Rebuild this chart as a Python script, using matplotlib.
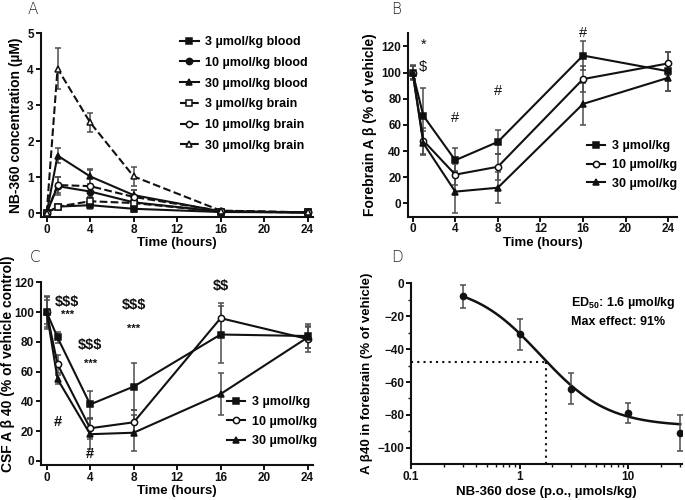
import numpy as np
import matplotlib
matplotlib.use("Agg")
import matplotlib.pyplot as plt
from matplotlib.lines import Line2D
from matplotlib.ticker import FixedLocator, NullFormatter

plt.rcParams["font.family"] = ["Liberation Sans", "DejaVu Sans"]
plt.rcParams["font.weight"] = "bold"
plt.rcParams["mathtext.fontset"] = "custom"
plt.rcParams["mathtext.bf"] = "Liberation Sans:bold"
plt.rcParams["mathtext.rm"] = "Liberation Sans:bold"

INK = "#111111"
ERR = "#4d4d4d"

# ---- panel A: NB-360 exposure ----
time_pts = [0, 1, 4, 8, 16, 24]
a_labels = ["3 µmol/kg blood", "10 µmol/kg blood", "30 µmol/kg blood",
            "3 µmol/kg brain", "10 µmol/kg brain", "30 µmol/kg brain"]
a_blood3 = [0, 0.18, 0.22, 0.12, 0.03, 0.02]
a_blood10 = [0, 0.75, 0.60, 0.30, 0.04, 0.02]
a_blood30 = [0, 1.60, 1.02, 0.50, 0.05, 0.02]
a_brain3 = [0, 0.18, 0.33, 0.28, 0.04, 0.02]
a_brain10 = [0, 0.78, 0.75, 0.45, 0.06, 0.02]
a_brain30 = [0, 4.02, 2.52, 1.02, 0.07, 0.02]
a_err_blood3 = [0, 0.05, 0.10, 0.10, 0.02, 0.01]
a_err_blood10 = [0, 0.25, 0.15, 0.18, 0.03, 0.01]
a_err_blood30 = [0, 0.20, 0.20, 0.15, 0.03, 0.01]
a_err_brain3 = [0, 0.05, 0.12, 0.10, 0.02, 0.01]
a_err_brain10 = [0, 0.22, 0.45, 0.20, 0.03, 0.01]
a_err_brain30 = [0, 0.58, 0.27, 0.27, 0.03, 0.01]

# ---- panel B: forebrain Abeta ----
dose_labels = ["3 µmol/kg", "10 µmol/kg", "30 µmol/kg"]
b_3 = [100, 67, 33, 47, 113, 101]
b_10 = [100, 48, 22, 28, 95, 107]
b_30 = [100, 46, 9, 12, 76, 96]
b_err3 = [6, 21, 9, 9, 11, 15]
b_err10 = [5, 10, 8, 10, 10, 9]
b_err30 = [5, 9, 16, 12, 16, 10]

# ---- panel C: CSF Abeta40 ----
c_3 = [100, 83, 38, 50, 85, 84]
c_10 = [100, 65, 22, 26, 96, 82]
c_30 = [100, 55, 18, 19, 45, 83]
c_err3 = [11, 4, 9, 16, 19, 8]
c_err10 = [8, 6, 7, 8, 10, 9]
c_err30 = [10, 3, 10, 12, 14, 7]

# ---- panel D: dose response ----
d_dose = [0.3, 1, 3, 10, 30]
d_resp = [-8, -31, -64, -79, -91]
d_err = [7, 9.5, 9.5, 6, 11]
fit_top, fit_bottom, fit_ec50, fit_hill = 0.0, -87.0, 1.55, 1.4
ed50_x, ed50_y = 1.76, -48

MS = 4.5


def style(ax):
    for side in ("top", "right"):
        ax.spines[side].set_visible(False)
    for side in ("left", "bottom"):
        ax.spines[side].set_linewidth(1.5)
        ax.spines[side].set_color(INK)
    ax.tick_params(axis="both", which="major", length=3.5, width=1.4,
                   pad=1.5, labelsize=8.5, colors=INK)
    ax.tick_params(axis="both", which="minor", length=2, width=1.0,
                   colors=INK)
    for lab in ax.get_xticklabels() + ax.get_yticklabels():
        lab.set_fontweight("bold")


def series(ax, y, err, marker, filled=True, ls="-"):
    ax.errorbar(time_pts, y, yerr=err, color=INK, ecolor=ERR, elinewidth=1.1,
                capsize=2.5, capthick=1.1, linestyle=ls, linewidth=1.5,
                marker=marker, markersize=MS,
                markerfacecolor=INK if filled else "white",
                markeredgecolor=INK, markeredgewidth=1.1, zorder=3)


def handle(marker, filled=True, ls="-"):
    return Line2D([], [], color=INK, linestyle=ls, linewidth=1.5,
                  marker=marker, markersize=MS,
                  markerfacecolor=INK if filled else "white",
                  markeredgecolor=INK, markeredgewidth=1.1)


def add_legend(ax, handles, labels, x, y, spacing):
    ax.legend(handles, labels, loc="upper left",
              bbox_to_anchor=(x / W, 1 - y / H),
              bbox_transform=fig.transFigure, frameon=False,
              handlelength=1.5, handletextpad=0.5, labelspacing=spacing,
              borderpad=0, borderaxespad=0,
              prop={"weight": "bold", "size": 9})


W, H = 685, 500
fig = plt.figure(figsize=(W / 100, H / 100), dpi=100)


def box(l, r, t, b):
    return [l / W, 1 - b / H, (r - l) / W, (b - t) / H]


axA = fig.add_axes(box(40.7, 313, 33.3, 216.7))
axB = fig.add_axes(box(408.3, 676.7, 33.3, 216.5))
axC = fig.add_axes(box(40.7, 313, 281.7, 465))
axD = fig.add_axes(box(411, 681.7, 283.3, 464.3))

# A
series(axA, a_blood3, a_err_blood3, "s")
series(axA, a_blood10, a_err_blood10, "o")
series(axA, a_blood30, a_err_blood30, "^")
series(axA, a_brain3, a_err_brain3, "s", False, "--")
series(axA, a_brain10, a_err_brain10, "o", False, "--")
series(axA, a_brain30, a_err_brain30, "^", False, "--")
axA.set_xlim(-0.55, 24.5)
axA.set_ylim(-0.1, 5)
axA.set_xticks([0, 4, 8, 12, 16, 20, 24])
axA.set_yticks([0, 1, 2, 3, 4, 5])
axA.set_xlabel("Time (hours)", fontsize=9.5, fontweight="bold", labelpad=1)
axA.set_ylabel("NB-360 concentration (µM)", fontsize=10, fontweight="bold",
               labelpad=3)
style(axA)
add_legend(axA, [handle("s"), handle("o"), handle("^"),
                 handle("s", False, "--"), handle("o", False, "--"),
                 handle("^", False, "--")], a_labels, 180, 36, 0.7)

# B
series(axB, b_3, b_err3, "s")
series(axB, b_10, b_err10, "o", False)
series(axB, b_30, b_err30, "^")
axB.set_xlim(-0.41, 24.8)
axB.set_ylim(-10, 130)
axB.set_xticks([0, 4, 8, 12, 16, 20, 24])
axB.set_yticks([0, 20, 40, 60, 80, 100, 120])
axB.set_xlabel("Time (hours)", fontsize=9.5, fontweight="bold", labelpad=1)
axB.set_ylabel("Forebrain A β (% of vehicle)", fontsize=10, fontweight="bold",
               labelpad=3)
style(axB)
add_legend(axB, [handle("s"), handle("o", False), handle("^")], dose_labels,
           586.7, 140, 0.55)
for x, y, s in [(1, 121, "*"), (1, 104, r"\$"), (4, 65, "#"), (8, 86, "#"),
                (16, 130, "#")]:
    axB.text(x, y, s, ha="center", va="center", fontsize=10.5,
             fontweight="normal", color=INK, clip_on=False)

# C
series(axC, c_3, c_err3, "s")
series(axC, c_10, c_err10, "o", False)
series(axC, c_30, c_err30, "^")
axC.set_xlim(-0.55, 24.5)
axC.set_ylim(-2.7, 120.5)
axC.set_xticks([0, 4, 8, 12, 16, 20, 24])
axC.set_yticks([0, 20, 40, 60, 80, 100, 120])
axC.set_xlabel("Time (hours)", fontsize=9.5, fontweight="bold", labelpad=1)
axC.set_ylabel("CSF A β 40 (% of vehicle control)", fontsize=10,
               fontweight="bold", labelpad=3)
axC.yaxis.set_label_coords(-0.095, 0.55)
style(axC)
add_legend(axC, [handle("s"), handle("o", False), handle("^")], dose_labels,
           226.7, 396, 0.6)
for x, y, s, fs in [(1.9, 107, r"\$\$\$", 10.5), (1.9, 98, "***", 8),
                    (4, 78, r"\$\$\$", 10.5), (4, 65.5, "***", 8),
                    (8, 104.7, r"\$\$\$", 10.5), (8, 88.6, "***", 8),
                    (16, 117.7, r"\$\$", 10.5),
                    (1, 26, "#", 10.5), (4, 4.7, "#", 10.5)]:
    axC.text(x, y, s, ha="center", va="center", fontsize=fs,
             fontweight="bold", color=INK, clip_on=False)

# D
xs = np.logspace(np.log10(d_dose[0]), np.log10(d_dose[-1]), 200)
fit = fit_top + (fit_bottom - fit_top) * (xs / fit_ec50) ** fit_hill / (
    1 + (xs / fit_ec50) ** fit_hill)
axD.plot(xs, fit, color=INK, linewidth=1.8, zorder=2)
axD.errorbar(d_dose, d_resp, yerr=d_err, fmt="o", color=INK, ecolor=ERR,
             elinewidth=1.1, capsize=2.5, capthick=1.1, markersize=MS, zorder=3)
axD.plot([0.1, ed50_x], [ed50_y, ed50_y], color=INK, linestyle=(0, (1, 2)),
         linewidth=1.5)
axD.plot([ed50_x, ed50_x], [-110, ed50_y], color=INK, linestyle=(0, (1, 2)),
         linewidth=1.5)
axD.set_xscale("log")
axD.set_xlim(0.1, 31)
axD.set_ylim(-110, 0)
axD.set_xticks([0.1, 1, 10])
axD.set_xticklabels(["0.1", "1", "10"])
axD.set_yticks([0, -20, -40, -60, -80, -100])
axD.yaxis.set_minor_locator(FixedLocator([-10, -30, -50, -70, -90]))
axD.yaxis.set_minor_formatter(NullFormatter())
axD.xaxis.set_minor_formatter(NullFormatter())
axD.set_xlabel("NB-360 dose (p.o., µmols/kg)", fontsize=9.5, fontweight="bold",
               labelpad=2)
axD.set_ylabel("A β40 in forebrain (% of vehicle)", fontsize=9.5,
               fontweight="bold", labelpad=3)
style(axD)
axD.text(3.0, -12, r"ED$_\mathbf{50}$: 1.6 µmol/kg", fontsize=9,
         fontweight="bold", va="center", ha="left")
axD.text(3.0, -23.5, "Max effect: 91%", fontsize=9, fontweight="bold",
         va="center", ha="left")

# panel letters
for x, y, s in [(28, 9, "A"), (391, 9, "B"), (30, 258, "C"), (391, 258, "D")]:
    fig.text(x / W, 1 - y / H, s, fontsize=11, fontweight="light",
             ha="left", va="center", color="#222222",
             family=["DejaVu Sans"])

fig.savefig("out.png", dpi=100)
